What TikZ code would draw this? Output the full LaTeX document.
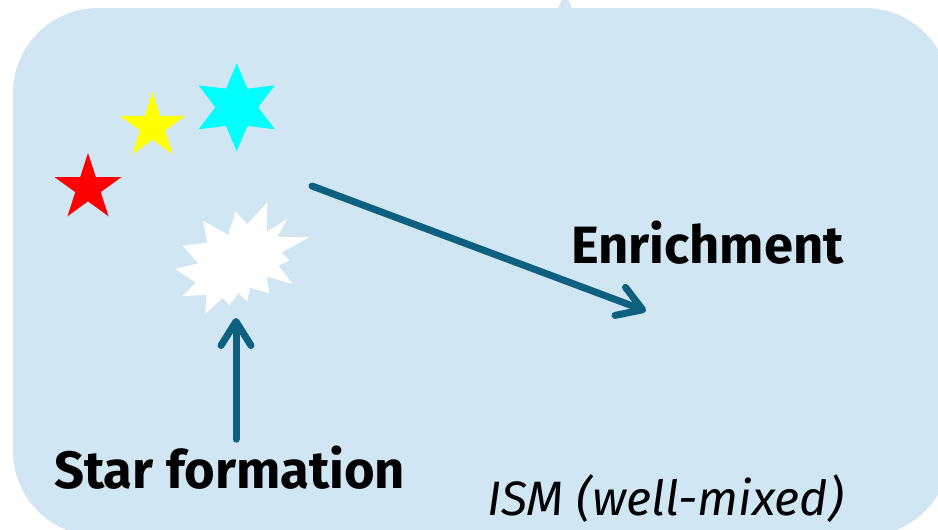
\documentclass[tikz,border=0pt]{standalone}
\usepackage{fontspec}
\setmainfont{Fira Sans}
\usetikzlibrary{shapes.geometric,arrows.meta}
\definecolor{ismblue}{RGB}{208,230,243}
\definecolor{flowteal}{RGB}{14,96,128}
\definecolor{starred}{RGB}{255,0,0}
\definecolor{staryellow}{RGB}{255,255,0}
\definecolor{starcyan}{RGB}{0,255,255}
\begin{document}
\begin{tikzpicture}[x=1pt,y=-1pt,
  starnode/.style={star, draw=none, inner sep=0pt, minimum size=#1},
  flowarrow/.style={draw=flowteal, line width=7pt, line cap=round,
    -{Straight Barb[length=24pt,width=30pt,round]}},
  tag/.style={font=\bfseries\fontsize{52.5}{52.5}\selectfont, anchor=base west, inner sep=0pt},
  remark/.style={font=\itshape\fontsize{48.3}{48.3}\selectfont, anchor=base west, inner sep=0pt}
]
\useasboundingbox (0,0) rectangle (938,530);

% the interstellar medium: a rounded panel with a small pointer on top
\begin{scope}
  \clip (0,0) rectangle (938,530);
  \fill[ismblue, rounded corners=85pt] (13,8) rectangle (950,536);
  \fill[ismblue] (558,9) -- (565,-8) -- (572,9) -- cycle;
\end{scope}

% stellar generations
\node[starnode=70pt, star points=5, star point ratio=2.618, fill=starred]    (redstar)  at (88,188)    {};
\node[starnode=69pt, star points=5, star point ratio=2.618, fill=staryellow] (yelstar)  at (152.5,126.5) {};
\node[starnode=88pt, star points=6, star point ratio=2.05,  fill=starcyan]   (cyanstar) at (236.7,107.3) {};

% newly forming star
\fill[white] (203.3,221) -- (228.3,235) -- (235.7,211.7) -- (247.3,224.3)
  -- (267.3,202.3) -- (266.7,231.7) -- (287.3,219) -- (277.3,236.7)
  -- (309.3,237.3) -- (281.7,252.3) -- (289.3,260.7) -- (278.3,265.7)
  -- (292.7,284) -- (266.7,276.7) -- (269,293.3) -- (250,287.7)
  -- (247.3,301) -- (238.3,293.3) -- (229.3,305) -- (222.7,297.7)
  -- (205,314.3) -- (206.7,295) -- (182.7,296) -- (196,282.7)
  -- (175,269) -- (198.3,263.3) -- (182.7,245.7) -- (207.3,242.7) -- cycle;
\coordinate (burstfoot) at (236,318);

% labels
\node[tag]    (enr) at (571,263) {Enrichment};
\node[tag]    (sf)  at (54,488)  {Star formation};
\node[remark] (ism) at (487,515) {ISM (well-mixed)};

% flows
\coordinate (enrstart) at (312,186);
\coordinate (enrtip)   at (646,311);
\draw[flowarrow] (enrstart) -- (enrtip);
\draw[flowarrow] ([yshift=6pt]sf.north -| burstfoot) -- (burstfoot);
\end{tikzpicture}
\end{document}
